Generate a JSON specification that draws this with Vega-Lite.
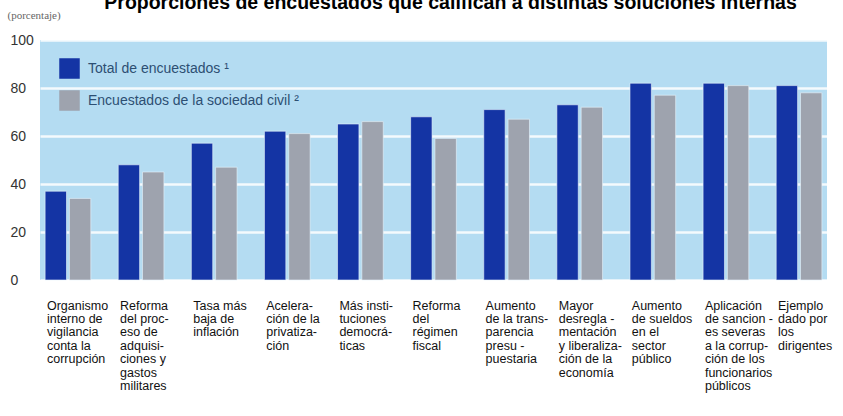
{
  "$schema": "https://vega.github.io/schema/vega-lite/v6.json",
  "width": 787,
  "height": 240,
  "autosize": {"type": "none"},
  "padding": {"left": 40, "top": 40, "right": 16, "bottom": 136},
  "background": "white",
  "title": {
    "text": "Proporciones de encuestados que califican a distintas soluciones internas",
    "font": "Liberation Sans",
    "fontSize": 19.5,
    "fontWeight": "bold",
    "color": "#000000",
    "anchor": "middle",
    "frame": "group",
    "baseline": "alphabetic",
    "offset": 0,
    "dy": 19,
    "dx": 17
  },
  "data": {
    "values": [
      {"cat": "Organismo|interno de|vigilancia|conta la|corrupción", "serie": "Total de encuestados ¹", "valor": 37},
      {"cat": "Organismo|interno de|vigilancia|conta la|corrupción", "serie": "Encuestados de la sociedad civil ²", "valor": 34},
      {"cat": "Reforma|del proc-|eso de|adquisi-|ciones y|gastos|militares", "serie": "Total de encuestados ¹", "valor": 48},
      {"cat": "Reforma|del proc-|eso de|adquisi-|ciones y|gastos|militares", "serie": "Encuestados de la sociedad civil ²", "valor": 45},
      {"cat": "Tasa más|baja de|inflación", "serie": "Total de encuestados ¹", "valor": 57},
      {"cat": "Tasa más|baja de|inflación", "serie": "Encuestados de la sociedad civil ²", "valor": 47},
      {"cat": "Acelera-|ción de la|privatiza-|ción", "serie": "Total de encuestados ¹", "valor": 62},
      {"cat": "Acelera-|ción de la|privatiza-|ción", "serie": "Encuestados de la sociedad civil ²", "valor": 61},
      {"cat": "Más insti-|tuciones|democrá-|ticas", "serie": "Total de encuestados ¹", "valor": 65},
      {"cat": "Más insti-|tuciones|democrá-|ticas", "serie": "Encuestados de la sociedad civil ²", "valor": 66},
      {"cat": "Reforma|del|régimen|fiscal", "serie": "Total de encuestados ¹", "valor": 68},
      {"cat": "Reforma|del|régimen|fiscal", "serie": "Encuestados de la sociedad civil ²", "valor": 59},
      {"cat": "Aumento|de la trans-|parencia|presu -|puestaria", "serie": "Total de encuestados ¹", "valor": 71},
      {"cat": "Aumento|de la trans-|parencia|presu -|puestaria", "serie": "Encuestados de la sociedad civil ²", "valor": 67},
      {"cat": "Mayor|desregla -|mentación|y liberaliza-|ción de la|economía", "serie": "Total de encuestados ¹", "valor": 73},
      {"cat": "Mayor|desregla -|mentación|y liberaliza-|ción de la|economía", "serie": "Encuestados de la sociedad civil ²", "valor": 72},
      {"cat": "Aumento|de sueldos|en el|sector|público", "serie": "Total de encuestados ¹", "valor": 82},
      {"cat": "Aumento|de sueldos|en el|sector|público", "serie": "Encuestados de la sociedad civil ²", "valor": 77},
      {"cat": "Aplicación|de sancion -|es severas|a la corrup-|ción de los|funcionarios|públicos", "serie": "Total de encuestados ¹", "valor": 82},
      {"cat": "Aplicación|de sancion -|es severas|a la corrup-|ción de los|funcionarios|públicos", "serie": "Encuestados de la sociedad civil ²", "valor": 81},
      {"cat": "Ejemplo|dado por|los|dirigentes", "serie": "Total de encuestados ¹", "valor": 81},
      {"cat": "Ejemplo|dado por|los|dirigentes", "serie": "Encuestados de la sociedad civil ²", "valor": 78}
    ]
  },
  "mark": {"type": "bar", "stroke": "#e8f4fb", "strokeWidth": 0.6},
  "encoding": {
    "x": {
      "field": "cat",
      "type": "nominal",
      "sort": null,
      "scale": {"paddingInner": 0.375, "paddingOuter": 0.07},
      "axis": {
        "title": null,
        "labelAngle": 0,
        "labelAlign": "left",
        "labelBaseline": "top",
        "labelOffset": -21,
        "labelPadding": 19,
        "labelExpr": "split(datum.value, '|')",
        "labelFont": "Liberation Sans",
        "labelFontSize": 12.5,
        "labelLineHeight": 13.4,
        "labelColor": "#111111",
        "labelLimit": 200,
        "ticks": false,
        "domain": false,
        "labelOverlap": false
      }
    },
    "xOffset": {
      "field": "serie",
      "type": "nominal",
      "sort": ["Total de encuestados ¹", "Encuestados de la sociedad civil ²"],
      "scale": {"paddingInner": 0.12}
    },
    "y": {
      "field": "valor",
      "type": "quantitative",
      "scale": {"domain": [0, 100], "nice": false},
      "axis": {
        "title": "(porcentaje)",
        "titleAngle": 0,
        "titleAlign": "left",
        "titleBaseline": "alphabetic",
        "titleX": -33,
        "titleY": -22,
        "titleFont": "Liberation Sans Narrow",
        "titleFontSize": 11,
        "titleFontWeight": "normal",
        "titleColor": "#666666",
        "values": [0, 20, 40, 60, 80, 100],
        "labelAlign": "left",
        "labelPadding": 30,
        "labelFont": "Liberation Sans",
        "labelFontSize": 14,
        "labelColor": "#333333",
        "ticks": false,
        "domain": false,
        "grid": true,
        "gridColor": "white",
        "gridWidth": 2.5,
        "gridOpacity": 0.85
      }
    },
    "color": {
      "field": "serie",
      "type": "nominal",
      "sort": ["Total de encuestados ¹", "Encuestados de la sociedad civil ²"],
      "scale": {
        "domain": ["Total de encuestados ¹", "Encuestados de la sociedad civil ²"],
        "range": ["#1434a4", "#9ea3ae"]
      },
      "legend": {
        "title": null,
        "orient": "none",
        "legendX": 19,
        "legendY": 18,
        "symbolType": "square",
        "symbolSize": 420,
        "symbolStrokeWidth": 0,
        "symbolOpacity": 1,
        "labelFont": "Liberation Sans",
        "labelFontSize": 14,
        "labelColor": "#2d4f73",
        "labelOffset": 8,
        "labelLimit": 400,
        "rowPadding": 11,
        "padding": 0
      }
    }
  },
  "config": {
    "view": {"fill": "#b4dcf2", "stroke": null}
  }
}
